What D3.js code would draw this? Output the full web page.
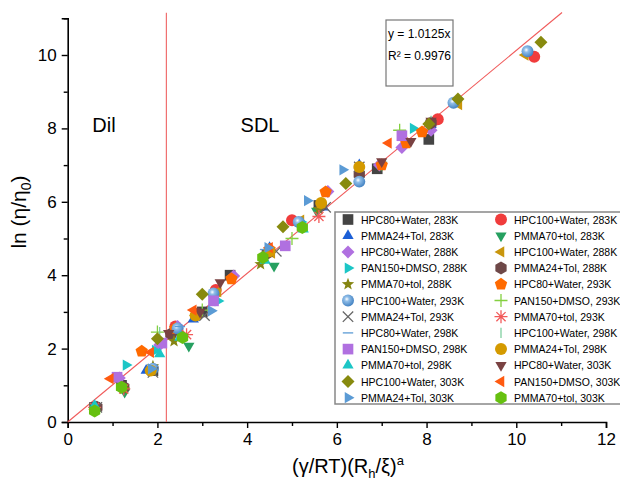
<!DOCTYPE html>
<html>
<head>
<meta charset="utf-8">
<script src="https://cdn.jsdelivr.net/npm/d3@7"></script>
<style>
  body { margin: 0; background: #fff; }
  svg { font-family: "Liberation Sans", Arial, sans-serif; }
</style>
</head>
<body>
<div id="chart"></div>
<script>
// legend labels, in series order (legend fills row by row, 2 columns)
const labels = [
  "HPC80+Water, 283K", "HPC100+Water, 283K",
  "PMMA24+Tol, 283K", "PMMA70+tol, 283K",
  "HPC80+Water, 288K", "HPC100+Water, 288K",
  "PAN150+DMSO, 288K", "PMMA24+Tol, 288K",
  "PMMA70+tol, 288K", "HPC80+Water, 293K",
  "HPC100+Water, 293K", "PAN150+DMSO, 293K",
  "PMMA24+Tol, 293K", "PMMA70+tol, 293K",
  "HPC80+Water, 298K", "HPC100+Water, 298K",
  "PAN150+DMSO, 298K", "PMMA24+Tol, 298K",
  "PMMA70+tol, 298K", "HPC80+Water, 303K",
  "HPC100+Water, 303K", "PAN150+DMSO, 303K",
  "PMMA24+Tol, 303K", "PMMA70+tol, 303K"
];
const shapes = [
  "square", "circle", "triUp", "triDown", "diamond", "triLeft",
  "triRight", "hexagon", "star", "pentagon", "sphere", "plus",
  "times", "asterisk", "dash", "vbar", "square", "circle",
  "triUp", "triDown", "diamond", "triLeft", "triRight", "hexagon"
];
const colors = [
  "#444444", "#f03c3c", "#1c5fd6", "#26a060", "#b070e0", "#c9960c",
  "#1cc6c6", "#6e4848", "#858512", "#ff6a00", "#5b9bd5", "#84d040",
  "#666666", "#f25a5a", "#5b9bd5", "#80d0a0", "#b070e0", "#d49a00",
  "#1cc6c6", "#7a4242", "#878a0e", "#ff5a10", "#5b9bd5", "#66c010"
];
// [x, y] = [(γ/RT)(Rh/ξ)^a, ln(η/η0)]
const points = [
  [[0.6,0.4],[1.2,1.0],[1.9,1.4],[2.4,2.5],[3.0,3.0],[3.62,4.0],[5.6,5.9],[6.9,6.9],[8.05,7.7]],
  [[2.4,2.6],[3.3,3.6],[5.0,5.5],[8.25,8.25],[10.4,9.95]],
  [[0.6,0.4],[1.75,1.4],[2.8,2.8],[4.5,4.75],[5.7,5.85],[6.5,7.0],[8.1,8.1]],
  [[0.6,0.4],[1.27,0.82],[2.7,2.07],[4.6,4.25],[5.55,5.75],[7.0,7.0]],
  [[1.15,1.2],[2.05,2.1],[2.45,2.6],[3.7,3.98],[5.8,6.28],[6.95,7.0],[7.45,7.48],[8.1,7.95]],
  [[0.6,0.35],[1.9,1.4],[2.85,2.9],[3.35,3.55],[4.55,4.6],[5.2,5.5],[8.72,8.65],[10.2,10.0]],
  [[1.3,1.55],[1.95,1.95],[3.35,3.3],[5.2,5.45],[7.7,8.0]],
  [[0.65,0.4],[1.25,0.95],[2.3,2.4],[2.9,2.95],[4.45,4.6],[5.65,5.9],[6.5,6.75],[8.1,8.15]],
  [[1.25,0.9],[1.9,1.52],[2.37,2.2],[4.3,4.3],[5.6,5.8]],
  [[1.65,1.93],[2.4,2.55],[3.65,3.9],[4.5,4.7],[5.75,6.27],[7.0,7.0],[7.55,7.6],[7.9,7.9]],
  [[1.9,1.45],[2.45,2.55],[3.25,3.5],[5.15,5.45],[6.5,6.55],[8.6,8.7],[10.25,10.1]],
  [[2.0,2.45],[3.0,3.05],[5.0,5.0],[7.4,7.95]],
  [[0.65,0.4],[1.9,1.35],[3.05,2.9],[4.65,4.65],[5.75,5.85],[6.5,6.95]],
  [[0.6,0.4],[1.25,0.9],[2.65,2.38],[5.6,5.6]],
  [[2.5,2.6],[4.4,4.7]],
  [[2.05,2.45],[8.1,8.2]],
  [[1.1,1.22],[2.1,2.15],[3.25,3.3],[4.85,4.8],[7.45,7.8]],
  [[1.85,1.4],[2.85,2.9],[4.5,4.65],[5.65,5.97],[6.5,6.95]],
  [[0.6,0.45],[2.05,1.85],[2.5,2.3],[4.4,4.4],[5.25,5.25]],
  [[2.25,2.42],[2.95,3.0],[3.4,3.8],[7.0,7.1],[7.65,7.65],[8.1,8.2]],
  [[2.0,2.27],[3.0,3.48],[4.8,5.32],[6.2,6.5],[8.05,8.12],[8.7,8.8],[10.55,10.35]],
  [[0.95,1.18],[1.85,1.9],[2.8,3.05],[4.5,4.75],[7.15,7.6]],
  [[1.86,1.45],[3.2,3.03],[4.46,4.75],[5.34,6.03],[6.13,6.87]],
  [[0.6,0.3],[1.2,0.95],[2.56,2.3],[4.35,4.48],[5.23,5.3]]
];
const xTicks = [0, 2, 4, 6, 8, 10, 12];
const yTicks = [0, 2, 4, 6, 8, 10];
const slope = 1.0125;
const dilBoundary = 2.2;

const width = 620, height = 482;
const svg = d3.select("#chart").append("svg")
    .attr("width", width)
    .attr("height", height);

const x = d3.scaleLinear().domain([0, 12]).range([67.7, 606]);
const y = d3.scaleLinear().domain([0, 11]).range([422, 18.3]);

const defs = svg.append("defs");
const grad = defs.append("radialGradient")
    .attr("id", "sphere")
    .attr("cx", "40%").attr("cy", "38%").attr("r", "65%");
grad.append("stop").attr("offset", "0%").attr("stop-color", "#ffffff");
grad.append("stop").attr("offset", "30%").attr("stop-color", "#8fbde8");
grad.append("stop").attr("offset", "100%").attr("stop-color", "#3f7fc0");

// axes
svg.append("g")
    .attr("transform", "translate(0," + y(0) + ")")
    .call(d3.axisBottom(x).tickValues(xTicks).tickSize(6).tickPadding(5).tickFormat(d3.format("d")));
svg.append("g")
    .attr("transform", "translate(0," + y(0) + ")")
    .call(d3.axisBottom(x).tickValues(d3.range(1, 12, 2)).tickSize(4).tickFormat(""))
    .select(".domain").remove();
svg.append("g")
    .attr("transform", "translate(" + x(0) + ",0)")
    .call(d3.axisLeft(y).tickValues(yTicks).tickSize(6).tickPadding(5).tickFormat(d3.format("d")));
svg.append("g")
    .attr("transform", "translate(" + x(0) + ",0)")
    .call(d3.axisLeft(y).tickValues(d3.range(1, 12, 2)).tickSize(4).tickFormat(""))
    .select(".domain").remove();
svg.selectAll(".domain").attr("stroke-width", 1.6).attr("stroke", "#000");
svg.selectAll(".tick line").attr("stroke-width", 1.4).attr("stroke", "#000");
svg.selectAll(".tick text").attr("font-size", 17).attr("fill", "#000")
    .attr("font-family", "'Liberation Sans', Arial, sans-serif");

// axis titles
const yTitle = svg.append("text")
    .attr("transform", "translate(26," + 212 + ") rotate(-90)")
    .attr("text-anchor", "middle")
    .attr("font-size", 21);
yTitle.append("tspan").text("ln (η/η");
yTitle.append("tspan").attr("font-size", 14).attr("dy", 5).text("0");
yTitle.append("tspan").attr("dy", -5).text(")");

const xTitle = svg.append("text")
    .attr("x", 348).attr("y", 473)
    .attr("text-anchor", "middle")
    .attr("font-size", 20);
xTitle.append("tspan").text("(γ/RT)(R");
xTitle.append("tspan").attr("font-size", 13).attr("dy", 5).text("h");
xTitle.append("tspan").attr("dy", -5).text("/ξ)");
xTitle.append("tspan").attr("font-size", 13).attr("dy", -8).text("a");

// region boundary and fit line
svg.append("line")
    .attr("x1", x(dilBoundary)).attr("x2", x(dilBoundary))
    .attr("y1", y(11.15)).attr("y2", y(0))
    .attr("stroke", "#f07070").attr("stroke-width", 1.2);
svg.append("line")
    .attr("x1", x(0)).attr("y1", y(0))
    .attr("x2", x(11.02)).attr("y2", y(11.02 * slope))
    .attr("stroke", "#f05a5a").attr("stroke-width", 1.1);

svg.append("text").attr("x", 104).attr("y", 132).attr("text-anchor", "middle")
    .attr("font-size", 20).text("Dil");
svg.append("text").attr("x", 260).attr("y", 132).attr("text-anchor", "middle")
    .attr("font-size", 20).text("SDL");

// equation box
svg.append("rect").attr("x", 386).attr("y", 20).attr("width", 67).attr("height", 66)
    .attr("fill", "#fff").attr("stroke", "#777").attr("stroke-width", 1.2);
svg.append("text").attr("x", 388).attr("y", 38).attr("font-size", 12).text("y = 1.0125x");
svg.append("text").attr("x", 388).attr("y", 60).attr("font-size", 12).text("R² = 0.9976");

// marker drawing
function shapePath(kind, r) {
  const p = d3.path();
  const poly = (n, rot) => {
    for (let i = 0; i < n; i++) {
      const a = rot + i * 2 * Math.PI / n;
      const px = r * Math.cos(a), py = r * Math.sin(a);
      if (i === 0) p.moveTo(px, py); else p.lineTo(px, py);
    }
    p.closePath();
  };
  switch (kind) {
    case "square": { const s = r * 0.82; p.rect(-s, -s, 2 * s, 2 * s); break; }
    case "circle": case "sphere": p.arc(0, 0, r * 0.92, 0, 2 * Math.PI); break;
    case "diamond": poly(4, -Math.PI / 2); break;
    case "triUp": poly(3, -Math.PI / 2); break;
    case "triDown": poly(3, Math.PI / 2); break;
    case "triLeft": poly(3, Math.PI); break;
    case "triRight": poly(3, 0); break;
    case "hexagon": poly(6, -Math.PI / 2); break;
    case "pentagon": poly(5, -Math.PI / 2); break;
    case "star": {
      for (let i = 0; i < 10; i++) {
        const a = -Math.PI / 2 + i * Math.PI / 5;
        const rr = i % 2 === 0 ? r : r * 0.42;
        if (i === 0) p.moveTo(rr * Math.cos(a), rr * Math.sin(a));
        else p.lineTo(rr * Math.cos(a), rr * Math.sin(a));
      }
      p.closePath(); break;
    }
    case "plus": p.moveTo(-r, 0); p.lineTo(r, 0); p.moveTo(0, -r); p.lineTo(0, r); break;
    case "times": { const s = r * 0.8; p.moveTo(-s, -s); p.lineTo(s, s); p.moveTo(-s, s); p.lineTo(s, -s); break; }
    case "asterisk": {
      for (let i = 0; i < 4; i++) {
        const a = i * Math.PI / 4;
        p.moveTo(-r * Math.cos(a), -r * Math.sin(a));
        p.lineTo(r * Math.cos(a), r * Math.sin(a));
      }
      break;
    }
    case "dash": p.moveTo(-r * 0.8, 0); p.lineTo(r * 0.8, 0); break;
    case "vbar": p.moveTo(0, -r * 0.8); p.lineTo(0, r * 0.8); break;
  }
  return p.toString();
}
const strokeOnly = new Set(["plus", "times", "asterisk", "dash", "vbar"]);
function styleMarker(sel, i) {
  const kind = shapes[i];
  if (strokeOnly.has(kind)) {
    sel.attr("fill", "none").attr("stroke", colors[i]).attr("stroke-width", 1.3);
  } else if (kind === "sphere") {
    sel.attr("fill", "url(#sphere)").attr("stroke", "none");
  } else {
    sel.attr("fill", colors[i]).attr("stroke", "none");
  }
}

const R = 6.5;
points.forEach((pts, i) => {
  svg.append("g").selectAll("path")
    .data(pts)
    .join("path")
    .attr("transform", d => "translate(" + x(d[0]) + "," + y(d[1]) + ")")
    .attr("d", shapePath(shapes[i], R))
    .call(styleMarker, i);
});

// legend (box runs past the right edge, as in the original)
const legend = svg.append("g");
legend.append("rect").attr("x", 335).attr("y", 212).attr("width", 300).attr("height", 192)
    .attr("fill", "#fff").attr("stroke", "#888").attr("stroke-width", 1.5);
labels.forEach((lab, i) => {
  const col = i % 2, row = Math.floor(i / 2);
  const cy = 219.5 + row * 16.2;
  const sx = col === 0 ? 348 : 501;
  legend.append("path")
    .attr("transform", "translate(" + sx + "," + cy + ")")
    .attr("d", shapePath(shapes[i], 6.5))
    .call(styleMarker, i);
  legend.append("text")
    .attr("x", sx + 13).attr("y", cy + 4)
    .attr("font-size", 10.5).text(lab);
});
</script>
</body>
</html>
